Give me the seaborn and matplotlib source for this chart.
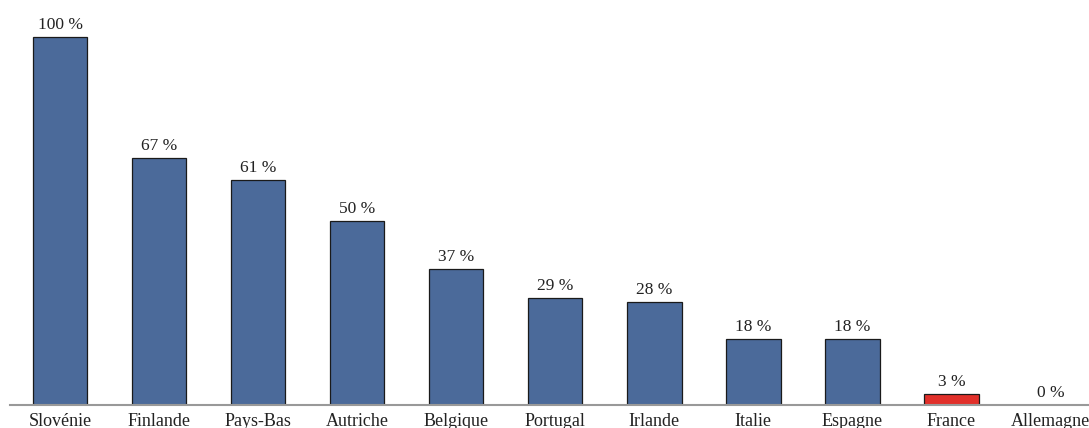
import matplotlib
matplotlib.use("Agg")
import matplotlib.pyplot as plt
import seaborn as sns
import pandas as pd

countries = ["Slovénie", "Finlande", "Pays-Bas", "Autriche", "Belgique", "Portugal",
             "Irlande", "Italie", "Espagne", "France", "Allemagne"]
values = [100, 67, 61, 50, 37, 29, 28, 18, 18, 3, 0]
highlight = "France"

blue = "#4B6A9A"
red = "#E1302A"

df = pd.DataFrame({"pays": countries, "part": values})
palette = {c: (red if c == highlight else blue) for c in countries}

sns.set_theme(style="white")
plt.rcParams["font.family"] = ["Liberation Serif", "DejaVu Serif"]

fig = plt.figure(figsize=(10.89, 4.28), dpi=100)
ax = fig.add_axes([10 / 1089, 23 / 428, 1090 / 1089, 405 / 428])

sns.barplot(data=df, x="pays", y="part", hue="pays", palette=palette, legend=False,
            width=0.55, edgecolor="#1a1a1a", linewidth=0.9, saturation=1, ax=ax)

ax.set_xlim(-0.505, 10.5)
ax.set_ylim(0, 110)

for i, v in enumerate(values):
    ax.annotate(f"{v} %", xy=(i, v), xytext=(0, 3), textcoords="offset points",
                ha="center", va="bottom", fontsize=12.5, color="#222222")

for s in ["top", "right", "left"]:
    ax.spines[s].set_visible(False)
ax.spines["bottom"].set_color("#999999")
ax.spines["bottom"].set_linewidth(1.5)
ax.set_yticks([])
ax.set_xlabel("")
ax.set_ylabel("")
ax.tick_params(axis="x", length=0, pad=6, labelsize=13, labelcolor="#222222")

fig.savefig("out.png", dpi=100)
